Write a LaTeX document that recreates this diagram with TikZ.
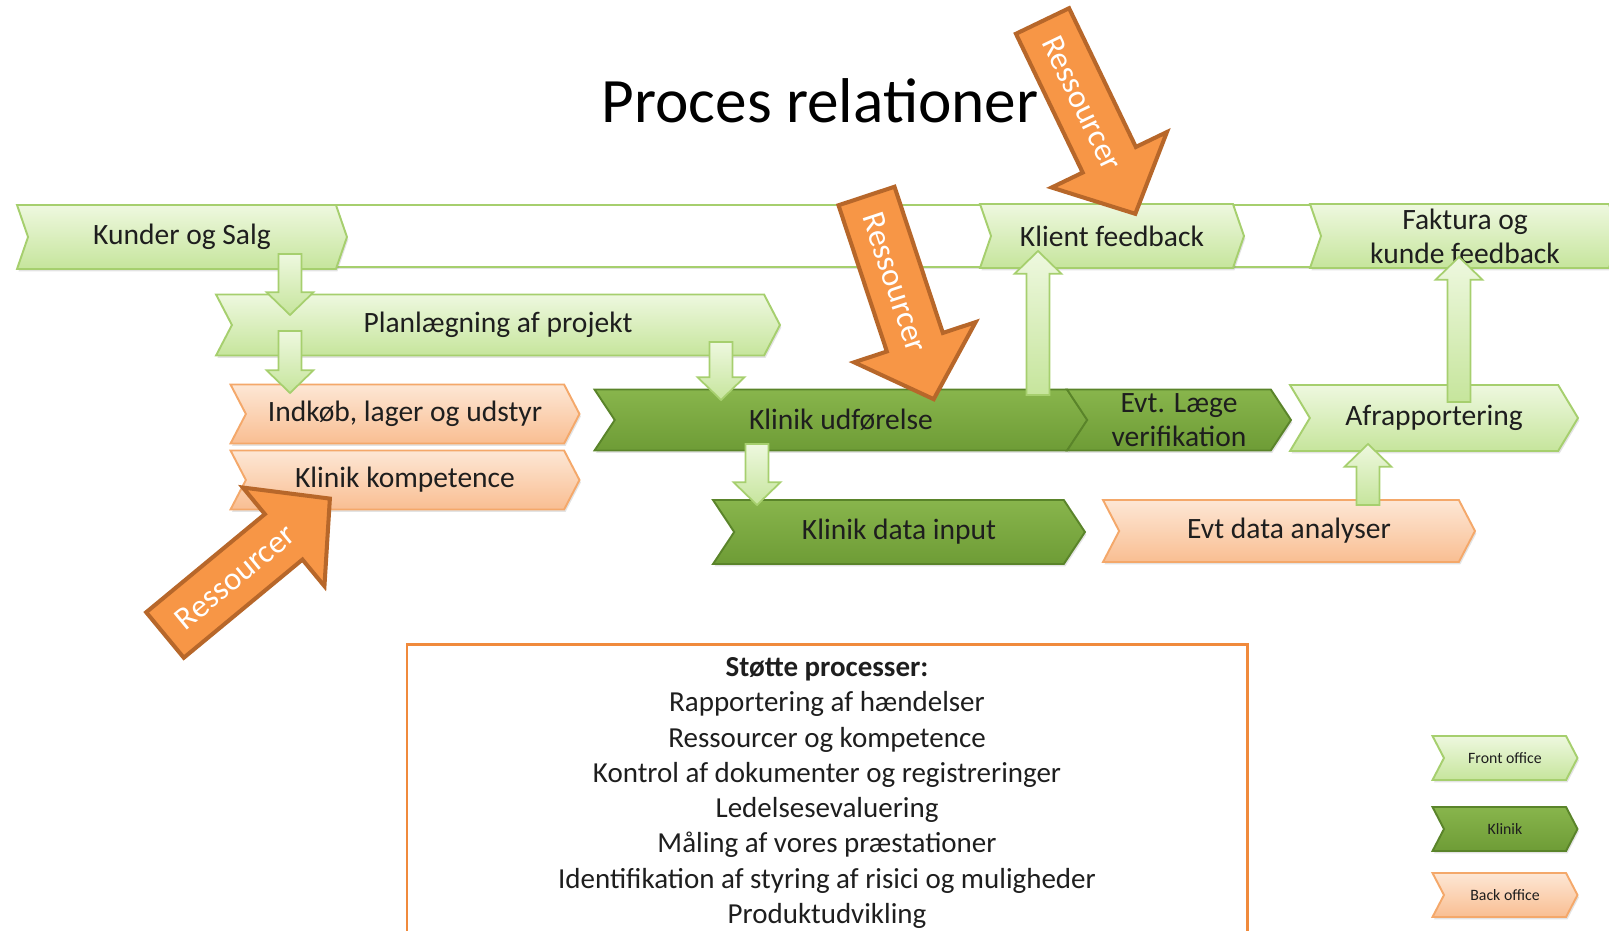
\documentclass[tikz,border=0pt]{standalone}
\usepackage{fontspec}
\setmainfont{Carlito}
\usetikzlibrary{shapes.symbols, shadows, calc}

\definecolor{fronttop}{HTML}{EEF8DF}
\definecolor{frontbund}{HTML}{C6E59C}
\definecolor{frontkant}{HTML}{A6CF6E}
\definecolor{kliniktop}{HTML}{88B54C}
\definecolor{klinikbund}{HTML}{6E9C36}
\definecolor{klinikkant}{HTML}{5A842A}
\definecolor{backtop}{HTML}{FDE7D5}
\definecolor{backbund}{HTML}{F9BE92}
\definecolor{backkant}{HTML}{F4A86A}
\definecolor{ressfyld}{HTML}{F79646}
\definecolor{resskant}{HTML}{B7672A}
\definecolor{stottekant}{HTML}{F08A3C}
\definecolor{tekstfarve}{HTML}{1E1E1E}

% blokpil: start, spids, hoved-forskydning (+ ned, - op)
\newcommand{\blokpil}[3]{%
  \draw[blokpil] ([xshift=-6.5pt]#1) -- ([xshift=-6.5pt,yshift=#3]#2)
    -- ([xshift=-13.4pt,yshift=#3]#2) -- (#2) -- ([xshift=13.4pt,yshift=#3]#2)
    -- ([xshift=6.5pt,yshift=#3]#2) -- ([xshift=6.5pt]#1) -- cycle;}

% ressourcepil: hale, vinkel, navn
\newcommand{\ressourcepil}[3]{%
  \begin{scope}[shift={#1}, rotate=#2]
    \draw[ressource] (0,-29.5) -- (154,-29.5) -- (154,-64) -- (214,0)
      -- (154,64) -- (154,29.5) -- (0,29.5) -- cycle;
    \node[resstekst, rotate=#2] (#3) at (91,0) {Ressourcer};
  \end{scope}}

\begin{document}
\begin{tikzpicture}[x=0.02cm, y=-0.02cm,
        tekst/.style={text=tekstfarve, font=\fontsize{16.8}{19.5}\selectfont},
        fase/.style={tekst, signal, signal from=west, signal to=east,
            signal pointer angle=125, inner sep=0pt, line width=1.1pt, align=center,
            drop shadow={opacity=0.22, shadow xshift=0.8pt, shadow yshift=-1.4pt}},
        front/.style={fase, draw=frontkant, top color=fronttop, bottom color=frontbund},
        klinik/.style={fase, signal pointer angle=113, draw=klinikkant,
            top color=kliniktop, bottom color=klinikbund},
        back/.style={fase, draw=backkant, top color=backtop, bottom color=backbund},
        blokpil/.style={draw=frontkant, line width=1pt, top color=fronttop, bottom color=frontbund},
        ressource/.style={fill=ressfyld, draw=resskant, line width=2.3pt, line join=miter},
        resstekst/.style={inner sep=0pt, text=white, font=\fontsize{18.5}{20}\selectfont},
        legende/.style={minimum width=2.9cm, minimum height=0.88cm, font=\fontsize{9}{10}\selectfont}
    ]
    \useasboundingbox (0,0) rectangle (1609,930);

    % Titel
    \node[anchor=base, text=black, font=\fontsize{36}{40}\selectfont] (titel) at (820,122) {Proces relationer};

    % Front office baand
    \draw[draw=frontkant, line width=1.1pt, fill=white,
        drop shadow={opacity=0.22, shadow xshift=0.8pt, shadow yshift=-1.4pt}] (180,205) rectangle (1625,267);

    % Faser
    \node[front, signal pointer angle=142, minimum width=6.6cm, minimum height=1.28cm] (kunder) at (182,237) {Kunder og Salg};
    \node[front, signal pointer angle=142, minimum width=5.28cm, minimum height=1.28cm] (klient) at (1112,236) {Klient feedback};
    \node[front, signal pointer angle=142, minimum width=6.2cm, minimum height=1.28cm] (faktura) at (1465,236) {Faktura og\\kunde feedback};
    \node[front, minimum width=11.28cm, minimum height=1.22cm] (plan) at (498,325) {Planlægning af projekt};
    \node[back, minimum width=6.98cm, minimum height=1.18cm] (indkob) at (405,414) {Indkøb, lager og udstyr};
    \node[back, minimum width=6.98cm, minimum height=1.18cm] (kompetence) at (405,480) {Klinik kompetence};
    \node[klinik, minimum width=9.86cm, minimum height=1.22cm] (udforelse) at (841,420) {Klinik udførelse};
    \node[klinik, minimum width=4.48cm, minimum height=1.22cm] (laege) at (1179,420) {Evt. Læge\\verifikation};
    \node[front, signal pointer angle=118, minimum width=5.76cm, minimum height=1.32cm] (afrap) at (1434,418) {Afrapportering};
    \node[klinik, minimum width=7.44cm, minimum height=1.28cm] (datainput) at (899,532) {Klinik data input};
    \node[back, minimum width=7.44cm, minimum height=1.24cm] (analyse) at (1289,531) {Evt data analyser};

    % Pile mellem faserne
    \coordinate (p1a) at ($(kunder.center)+(108,17)$);
    \coordinate (p1b) at ($(plan.center)+(-208,-10)$);
    \coordinate (p2a) at ($(plan.center)+(-208,6)$);
    \coordinate (p2b) at ($(indkob.center)+(-115,-21)$);
    \coordinate (p3a) at ($(plan.center)+(223,17)$);
    \coordinate (p3b) at ($(udforelse.center)+(-120,-20)$);
    \coordinate (p4a) at ($(udforelse.center)+(-84,24)$);
    \coordinate (p4b) at ($(datainput.center)+(-142,-27)$);
    \coordinate (p5a) at ($(udforelse.center)+(197,-25)$);
    \coordinate (p5b) at ($(klient.center)+(-74,15)$);
    \coordinate (p6a) at ($(afrap.center)+(25,-16)$);
    \coordinate (p6b) at ($(faktura.center)+(-6,21)$);
    \coordinate (p7a) at ($(analyse.center)+(79,-26)$);
    \coordinate (p7b) at ($(afrap.center)+(-66,26)$);

    \blokpil{p1a}{p1b}{13pt}
    \blokpil{p2a}{p2b}{13pt}
    \blokpil{p3a}{p3b}{13pt}
    \blokpil{p4a}{p4b}{13pt}
    \blokpil{p5a}{p5b}{-13pt}
    \blokpil{p6a}{p6b}{-13pt}
    \blokpil{p7a}{p7b}{-13pt}

    % Ressourcer
    \ressourcepil{(1042.5,21)}{-64.3}{res1}
    \ressourcepil{(866.5,196)}{-71.7}{res2}
    \ressourcepil{(165,635)}{39.6}{res3}

    % Støtte processer
    \draw[draw=stottekant, line width=1.7pt] (407,644) rectangle (1247,950);
    \node[anchor=north, inner sep=0pt, align=center, text=tekstfarve,
        font=\fontsize{16.5}{20.1}\selectfont] (stotte) at (827,657)
        {\textbf{Støtte processer:}\\Rapportering af hændelser\\Ressourcer og kompetence\\
         Kontrol af dokumenter og registreringer\\Ledelsesevaluering\\
         Måling af vores præstationer\\Identifikation af styring af risici og muligheder\\
         Produktudvikling};

    % Legende
    \node[front, legende] (leg1) at (1505,758) {Front office};
    \node[klinik, legende, signal pointer angle=125] (leg2) at (1505,829) {Klinik};
    \node[back, legende] (leg3) at (1505,895) {Back office};
\end{tikzpicture}
\end{document}
